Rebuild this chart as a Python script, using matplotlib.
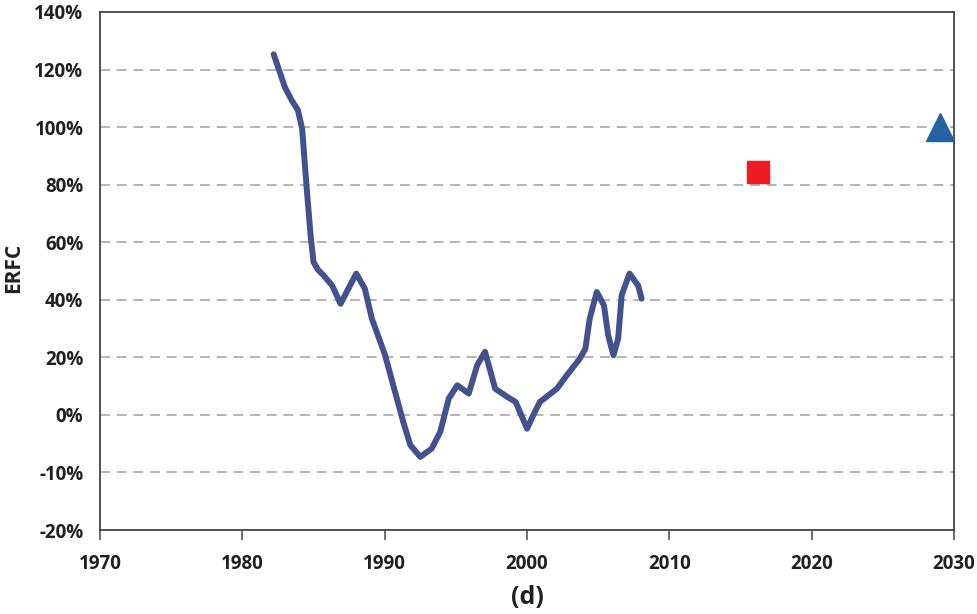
import numpy as np
import matplotlib.pyplot as plt

# ERFC history (positions on the y scale; the two lowest ticks carry compressed labels)
years = [1982.2, 1982.6, 1983.0, 1983.5, 1983.9, 1984.2, 1984.5, 1984.8, 1985.0,
         1985.3, 1985.7, 1986.3, 1986.9, 1987.45, 1988.0, 1988.6, 1989.1, 1989.44,
         1990.03, 1990.6, 1991.3, 1991.8, 1992.5, 1993.3, 1993.9, 1994.5, 1995.1,
         1995.9, 1996.5, 1997.05, 1997.76, 1998.6, 1999.2, 2000.0, 2000.4, 2000.9,
         2002.1, 2002.8, 2003.7, 2004.1, 2004.4, 2004.9, 2005.4, 2005.7, 2006.07,
         2006.4, 2006.65, 2007.2, 2007.8, 2008.05]
erfc = [125.3, 119.5, 113.7, 109.0, 105.9, 99.4, 79.9, 62.0, 53.1,
        50.5, 48.5, 45.0, 38.6, 43.9, 49.1, 43.9, 33.4, 28.8,
        20.7, 10.3, -2.4, -10.5, -14.6, -11.7, -5.9, 5.7, 10.3,
        7.4, 17.3, 21.9, 9.1, 6.3, 4.5, -4.8, -0.5, 4.5,
        9.1, 13.8, 19.5, 23.0, 33.4, 42.7, 38.1, 27.7, 20.7,
        26.5, 41.6, 49.1, 45.0, 40.4]

target_2016 = (2016.2, 84.3)
target_2029 = (2029.0, 100.0)

ytick_pos = [-40, -20, 0, 20, 40, 60, 80, 100, 120, 140]
ytick_lab = ['-20%', '-10%', '0%', '20%', '40%', '60%', '80%', '100%', '120%', '140%']
xtick_pos = [1970, 1980, 1990, 2000, 2010, 2020, 2030]

plt.rcParams['font.family'] = ['Open Sans', 'DejaVu Sans']
ink = '#231f20'

fig = plt.figure(figsize=(9.77, 6.14), dpi=100)
ax = fig.add_axes([0.1024, 0.1368, 0.8741, 0.8437])

for y in ytick_pos[1:-1]:
    ax.axhline(y, color='#a8a8a8', lw=1.2, ls=(0, (6, 4)), zorder=1)

ax.plot(years, erfc, color='#42528f', lw=4.3, solid_capstyle='round',
        solid_joinstyle='round', zorder=3)
ax.plot(*target_2016, marker='s', color='#ed1c24', markersize=16, ls='none',
        zorder=4, clip_on=False)
ax.plot(*target_2029, marker='^', color='#2463a3', markersize=20, ls='none',
        zorder=4, clip_on=False)

ax.set_xlim(1970, 2030)
ax.set_ylim(-40, 140)
ax.set_xticks(xtick_pos)
ax.set_xticklabels([str(x) for x in xtick_pos], fontsize=13.5, fontweight='bold',
                   color=ink)
ax.set_yticks(ytick_pos)
ax.set_yticklabels(ytick_lab, fontsize=13.5, fontweight='bold', color=ink)
ax.tick_params(axis='x', length=7, width=1.2, color='#555555', pad=10)
ax.tick_params(axis='y', length=0, pad=12)
for s in ax.spines.values():
    s.set_color('#444444')
    s.set_linewidth(1.3)

fig.text(14 / 977, 1 - 268 / 614, 'ERFC', rotation=90, ha='center', va='center',
         fontsize=15, fontweight='bold', color=ink)
ax.set_xlabel('(d)', fontsize=18, fontweight='bold', color=ink, labelpad=8)

fig.savefig('out.png', dpi=100)
